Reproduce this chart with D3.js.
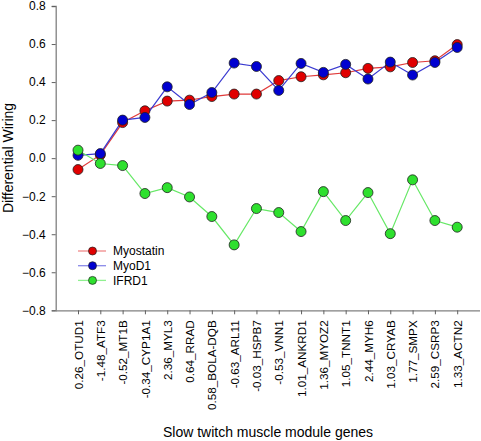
<!DOCTYPE html>
<html><head><meta charset="utf-8">
<script src="https://cdn.jsdelivr.net/npm/d3@7"></script>
<style>body{margin:0;background:#fff}svg{display:block}text{font-family:"Liberation Sans",Arial,sans-serif}</style>
</head><body>
<script>
const categories = ["0.26_OTUD1","-1.48_ATF3","-0.52_MT1B","-0.34_CYP1A1","2.36_MYL3","0.64_RRAD","0.58_BOLA-DQB","-0.63_ARL11","-0.03_HSPB7","-0.53_VNN1","1.01_ANKRD1","1.36_MYOZ2","1.05_TNNT1","2.44_MYH6","1.03_CRYAB","1.77_SMPX","2.59_CSRP3","1.33_ACTN2"];
const myostatin = [-0.06,0.017,0.187,0.249,0.30,0.305,0.324,0.337,0.337,0.408,0.428,0.438,0.449,0.472,0.48,0.503,0.512,0.597];
const myod1 = [0.015,0.024,0.20,0.214,0.375,0.282,0.345,0.50,0.482,0.356,0.498,0.451,0.493,0.416,0.505,0.437,0.503,0.582];
const ifrd1 = [0.042,-0.028,-0.039,-0.186,-0.155,-0.204,-0.307,-0.456,-0.265,-0.286,-0.386,-0.176,-0.328,-0.181,-0.397,-0.114,-0.328,-0.363];
const yTicks = [-0.8,-0.6,-0.4,-0.2,0.0,0.2,0.4,0.6,0.8];
const seriesNames = ["Myostatin","MyoD1","IFRD1"];

const W=481,H=441;
const svg=d3.select("body").append("svg").attr("width",W).attr("height",H);
const x=d3.scalePoint().domain(categories).range([55.7,479.5]).padding(1);
const y=d3.scaleLinear().domain([-0.8,0.8]).range([310.3,6]);

const series=[
 {name:seriesNames[0],vals:myostatin,fill:"#e00000",line:"#e03a3a",lg:"#f08a8a"},
 {name:seriesNames[1],vals:myod1,fill:"#0000d0",line:"#3a3ad0",lg:"#8a8ae8"},
 {name:seriesNames[2],vals:ifrd1,fill:"#2ee02e",line:"#66e866",lg:"#90f090"}
];

// axes
const yAx=svg.append("g").attr("transform","translate(55.7,0)")
 .call(d3.axisLeft(y).tickValues(yTicks).tickFormat(d3.format(".1f")).tickSize(4).tickPadding(6));
const xAx=svg.append("g").attr("transform","translate(0,310.3)")
 .call(d3.axisBottom(x).tickSize(4).tickSizeOuter(0));
[yAx,xAx].forEach(g=>{g.select(".domain").attr("stroke","#808080").attr("stroke-width",1.3);
 g.selectAll(".tick line").attr("stroke","#606060");});
yAx.selectAll(".tick text").attr("font-size",12).attr("fill","#000").attr("font-family","Liberation Sans, Arial, sans-serif");
xAx.selectAll(".tick text").attr("font-size",11.7).attr("fill","#000").attr("font-family","Liberation Sans, Arial, sans-serif")
 .attr("transform","rotate(-90)").attr("text-anchor","end").attr("x",-10).attr("y",0).attr("dy","0.35em");

// lines and markers
series.forEach(s=>{
 const data=categories.map((c,i)=>({c,v:s.vals[i]}));
 svg.append("path").datum(data).attr("fill","none").attr("stroke",s.line).attr("stroke-width",1.2)
  .attr("d",d3.line().x(d=>x(d.c)).y(d=>y(d.v)));
});
series.forEach(s=>{
 const data=categories.map((c,i)=>({c,v:s.vals[i]}));
 svg.append("g").selectAll("circle").data(data).join("circle")
  .attr("cx",d=>x(d.c)).attr("cy",d=>y(d.v)).attr("r",5)
  .attr("fill",s.fill).attr("stroke","#202020").attr("stroke-width",0.8);
});

// legend
const lg=svg.append("g");
series.forEach((s,i)=>{
 const yy=251+i*14.7;
 lg.append("line").attr("x1",78).attr("x2",106).attr("y1",yy).attr("y2",yy).attr("stroke",s.lg).attr("stroke-width",1.3);
 lg.append("circle").attr("cx",92.5).attr("cy",yy).attr("r",4).attr("fill",s.fill).attr("stroke","#202020").attr("stroke-width",0.7);
 lg.append("text").attr("x",113).attr("y",yy).attr("dy","0.35em").attr("font-size",12).text(s.name);
});

// titles
svg.append("text").attr("transform","translate(13,158) rotate(-90)").attr("text-anchor","middle")
 .attr("font-size",14).text("Differential Wiring");
svg.append("text").attr("x",268).attr("y",437).attr("text-anchor","middle").attr("font-size",14)
 .text("Slow twitch muscle module genes");
</script>
</body></html>
